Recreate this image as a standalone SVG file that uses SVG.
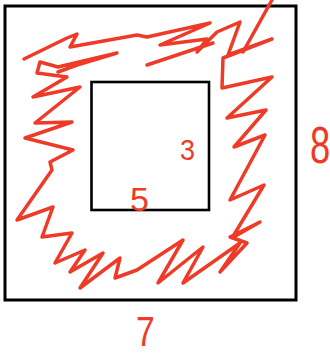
<svg xmlns="http://www.w3.org/2000/svg" width="330" height="358" viewBox="0 0 330 358">
<style>
.box{fill:none;stroke:#000;stroke-linejoin:miter}
.ink{fill:none;stroke:#ee3a27;stroke-width:3.5;stroke-linecap:round;stroke-linejoin:round}
.lbl{fill:#ee3a27;font-family:"Liberation Sans",Arial,sans-serif}
</style>
<rect width="330" height="358" fill="#fff"/>
<g id="outer"><rect class="box" x="5" y="6" width="291" height="294" stroke-width="3"/></g>
<g id="inner"><rect class="box" x="91.5" y="82" width="117.5" height="128" stroke-width="2.6"/></g>
<g id="scribble">
<path class="ink" d="M24,59 L67,38 L77,34 L70,47 L137,35 L147,37 L210,23 L160,45 L207,39 L197,52 L217,32 L240,22 L228,55 L272,39 L223,58 L222,88 L272,77 L227,118 L266,110 L234,147 L265,135 L230,200 L264,185 L232,238 L260,222 L230,237 L247,243 L220,272 L240,243 L183,283 L203,247 L158,283 L183,240 L137,270 L115,278 L120,258 L80,288 L103,253 L70,272 L85,250 L55,263 L72,233 L42,237 L53,207 L17,220 L52,170 L50,162 L73,150 L25,138 L72,122 L35,123 L80,87 L33,97 L67,77 L37,73 L40,62 L58,67 L117,53 L77,65 L58,72"/>
<path class="ink" d="M147,65 L213,43"/>
<path class="ink" d="M272,0 L243,52"/>
</g>
<g id="labels">
<text class="lbl" x="180" y="160" font-size="30" transform="translate(180 160) scale(0.9 1) translate(-180 -160)">3</text>
<text class="lbl" x="130" y="211" font-size="34">5</text>
<text class="lbl" x="310" y="163" font-size="52" transform="translate(310 163) scale(0.7 1) translate(-310 -163)">8</text>
<text class="lbl" x="136" y="346" font-size="42" transform="translate(136 346) scale(0.8 1) translate(-136 -346)">7</text>
</g>
</svg>
